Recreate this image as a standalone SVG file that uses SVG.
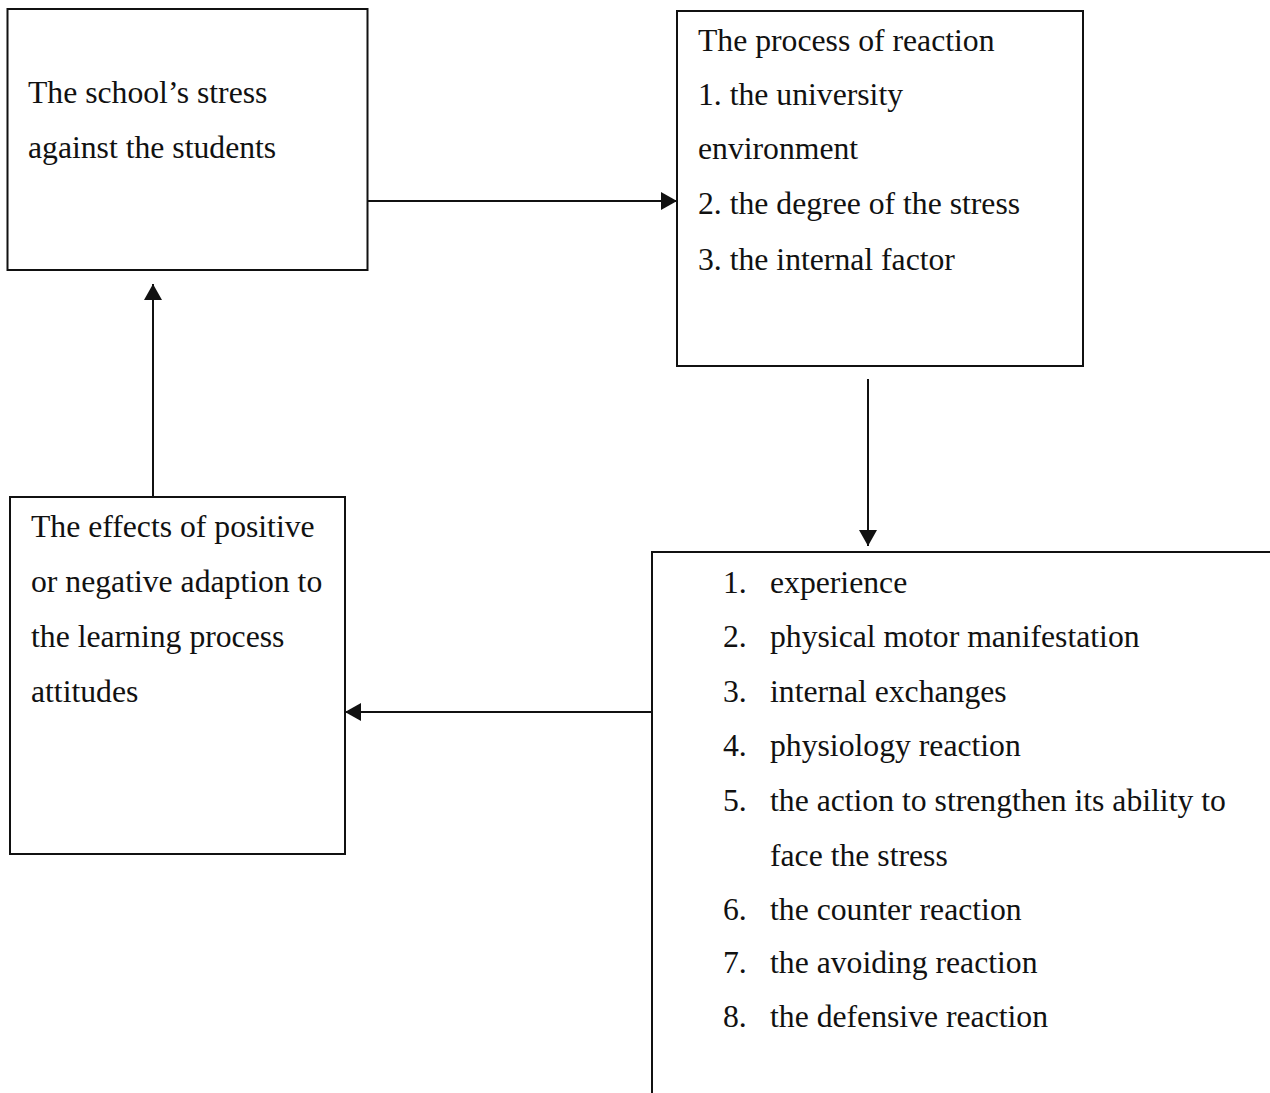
<svg xmlns="http://www.w3.org/2000/svg" width="1270" height="1093" viewBox="0 0 1270 1093">
<defs>
<style>
.box{fill:#fff;stroke:#111;stroke-width:2}
.t{font-family:"Liberation Serif","Times New Roman",serif;font-size:31.7px;fill:#111}
.c{stroke:#111;stroke-width:2;fill:none}
</style>
<marker id="ah" markerUnits="userSpaceOnUse" markerWidth="17" markerHeight="18" refX="16" refY="9" orient="auto">
<path d="M0,0 L16,9 L0,18 Z" fill="#111"/>
</marker>
</defs>
<rect width="1270" height="1093" fill="#fff"/>
<g id="connectors">
<line class="c" x1="368" y1="201" x2="677" y2="201" marker-end="url(#ah)"/>
<line class="c" x1="868" y1="379" x2="868" y2="546" marker-end="url(#ah)"/>
<line class="c" x1="652" y1="712" x2="345" y2="712" marker-end="url(#ah)"/>
<line class="c" x1="153" y1="497" x2="153" y2="284" marker-end="url(#ah)"/>
</g>
<g id="node-stress">
<rect class="box" x="7.5" y="9" width="360" height="261"/>
<text class="t" x="28" y="103">The school’s stress</text>
<text class="t" x="28" y="158">against the students</text>
</g>
<g id="node-process">
<rect class="box" x="677" y="11" width="406" height="355"/>
<text class="t" x="698" y="51">The process of reaction</text>
<text class="t" x="698" y="105">1. the university</text>
<text class="t" x="698" y="159">environment</text>
<text class="t" x="698" y="214">2. the degree of the stress</text>
<text class="t" x="698" y="270">3. the internal factor</text>
</g>
<g id="node-reactions">
<rect class="box" x="652" y="552" width="640" height="560"/>
<text class="t" x="723" y="593">1.</text><text class="t" x="770" y="593">experience</text>
<text class="t" x="723" y="647">2.</text><text class="t" x="770" y="647">physical motor manifestation</text>
<text class="t" x="723" y="702">3.</text><text class="t" x="770" y="702">internal exchanges</text>
<text class="t" x="723" y="756">4.</text><text class="t" x="770" y="756">physiology reaction</text>
<text class="t" x="723" y="811">5.</text><text class="t" x="770" y="811">the action to strengthen its ability to</text>
<text class="t" x="770" y="866">face the stress</text>
<text class="t" x="723" y="920">6.</text><text class="t" x="770" y="920">the counter reaction</text>
<text class="t" x="723" y="973">7.</text><text class="t" x="770" y="973">the avoiding reaction</text>
<text class="t" x="723" y="1027">8.</text><text class="t" x="770" y="1027">the defensive reaction</text>
</g>
<g id="node-effects">
<rect class="box" x="10" y="497" width="335" height="357"/>
<text class="t" x="31" y="537">The effects of positive</text>
<text class="t" x="31" y="592">or negative adaption to</text>
<text class="t" x="31" y="647">the learning process</text>
<text class="t" x="31" y="702">attitudes</text>
</g>
</svg>
